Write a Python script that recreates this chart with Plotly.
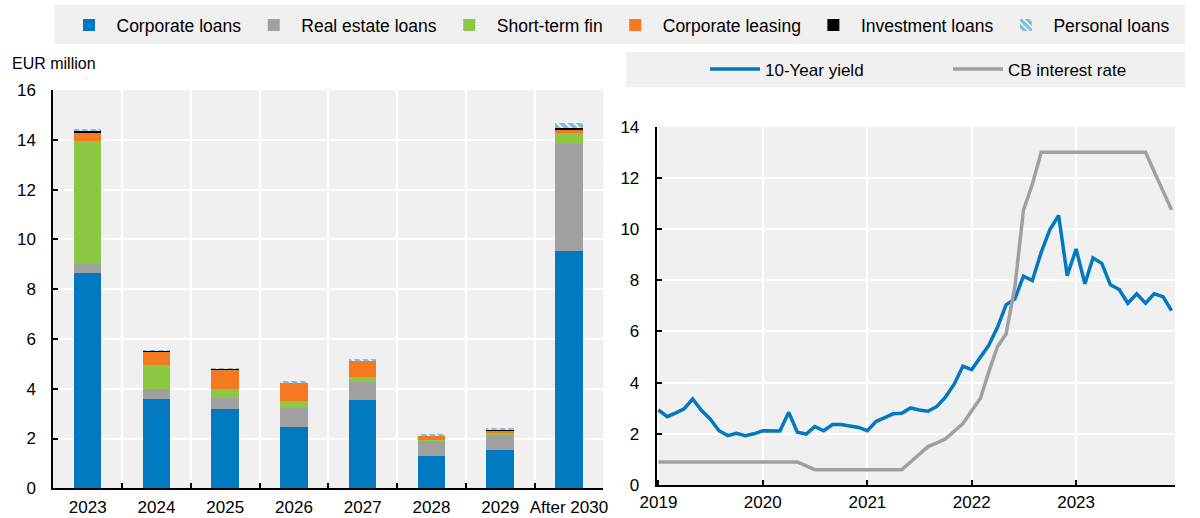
import plotly.graph_objects as go
import pandas as pd

# ---------------- data ----------------
categories = ["2023", "2024", "2025", "2026", "2027", "2028", "2029", "After 2030"]
corporate_loans = [8.64, 3.59, 3.19, 2.46, 3.55, 1.31, 1.55, 9.55]
real_estate_loans = [0.39, 0.40, 0.43, 0.75, 0.71, 0.62, 0.58, 4.30]
short_term_fin = [4.93, 0.95, 0.37, 0.28, 0.21, 0.03, 0.09, 0.41]
corporate_leasing = [0.33, 0.56, 0.80, 0.75, 0.67, 0.15, 0.11, 0.16]
investment_loans = [0.07, 0.02, 0.01, 0.02, 0.01, 0.01, 0.04, 0.06]
personal_loans = [0.04, 0.03, 0.03, 0.03, 0.03, 0.03, 0.03, 0.21]

months = pd.date_range("2019-01-01", "2023-12-01", freq="MS")
yield_10y = [
    2.93, 2.67, 2.81, 2.98, 3.36, 2.91, 2.58, 2.12, 1.93, 2.02, 1.93, 2.00,
    2.12, 2.11, 2.11, 2.84, 2.06, 1.99, 2.28, 2.12, 2.36, 2.36, 2.32, 2.25,
    2.12, 2.49, 2.62, 2.78, 2.80, 3.01, 2.93, 2.88, 3.07, 3.43, 3.95, 4.64,
    4.51, 4.99, 5.45, 6.16, 7.04, 7.27, 8.16, 7.99, 9.09, 9.97, 10.53, 8.18,
    9.22, 7.86, 8.87, 8.66, 7.82, 7.64, 7.10, 7.47, 7.10, 7.47, 7.36, 6.81,
]
cb_rate = [
    0.90, 0.90, 0.90, 0.90, 0.90, 0.90, 0.90, 0.90, 0.90, 0.90, 0.90, 0.90,
    0.90, 0.90, 0.90, 0.90, 0.90, 0.75, 0.60, 0.60, 0.60, 0.60, 0.60, 0.60,
    0.60, 0.60, 0.60, 0.60, 0.60, 0.90, 1.20, 1.50, 1.65, 1.80, 2.10, 2.40,
    2.90, 3.40, 4.40, 5.40, 5.90, 7.75, 10.75, 11.75, 13.00, 13.00, 13.00, 13.00,
    13.00, 13.00, 13.00, 13.00, 13.00, 13.00, 13.00, 13.00, 13.00, 12.25, 11.50, 10.75,
]
year_ticks = ["2019", "2020", "2021", "2022", "2023"]

# ---------------- styles ----------------
BLUE = "#0079C0"
GREY = "#A0A0A0"
GREEN = "#8CC841"
ORANGE = "#F47920"
BLACK = "#000000"
BG = "#F0F0F0"
FONT = "Liberation Sans, Arial, sans-serif"
W, H = 1200, 518

fig = go.Figure()

bar_series = [
    ("Corporate loans", corporate_loans, dict(color=BLUE)),
    ("Real estate loans", real_estate_loans, dict(color=GREY)),
    ("Short-term fin", short_term_fin, dict(color=GREEN)),
    ("Corporate leasing", corporate_leasing, dict(color=ORANGE)),
    ("Investment loans", investment_loans, dict(color=BLACK)),
    ("Personal loans", personal_loans,
     dict(color="white", pattern=dict(shape="\\", fgcolor=BLUE, bgcolor="white",
                                      size=6, solidity=0.7, fillmode="overlay"))),
]
for name, vals, marker in bar_series:
    fig.add_trace(go.Bar(
        x=categories, y=vals, name=name, marker=dict(line=dict(width=0), **marker),
        xaxis="x", yaxis="y", legend="legend",
    ))

fig.add_trace(go.Scatter(
    x=months, y=yield_10y, name="10-Year yield", mode="lines",
    line=dict(color=BLUE, width=3.5), xaxis="x2", yaxis="y2", legend="legend2",
))
fig.add_trace(go.Scatter(
    x=months, y=cb_rate, name="CB interest rate", mode="lines",
    line=dict(color=GREY, width=3.5), xaxis="x2", yaxis="y2", legend="legend2",
))

def px_x(p):
    return p / W

def px_y(p):
    return 1 - p / H

axis_common = dict(
    showline=True, linecolor=BLACK, linewidth=2,
    ticks="inside", ticklen=5, tickwidth=2, tickcolor=BLACK,
    showgrid=True, gridcolor="white", gridwidth=2, zeroline=False,
    tickfont=dict(size=17, color=BLACK, family=FONT),
)

fig.update_layout(
    width=W, height=H,
    margin=dict(l=0, r=0, t=0, b=0, autoexpand=False),
    paper_bgcolor="white",
    plot_bgcolor=BG,
    font=dict(family=FONT, size=17, color=BLACK),
    barmode="stack",
    bargap=0.6,
    xaxis=dict(domain=[px_x(53.3), px_x(603.3)], type="category",
               tickson="boundaries", anchor="y", tickangle=0,
               ticklabelstandoff=2, automargin=False, **axis_common),
    yaxis=dict(domain=[px_y(488.3), px_y(90)], range=[0, 16], dtick=2,
               anchor="x", ticklabelstandoff=12, automargin=False, **axis_common),
    xaxis2=dict(domain=[px_x(656.7), px_x(1175)], type="date",
                range=["2018-12-26", "2023-12-13"],
                tickvals=[f"{y}-01-01" for y in year_ticks], ticktext=year_ticks,
                anchor="y2", tickangle=0, ticklabelstandoff=1, automargin=False,
                **axis_common),
    yaxis2=dict(domain=[px_y(485), px_y(126.7)], range=[0, 14], dtick=2,
                anchor="x2", ticklabelstandoff=12, automargin=False, **axis_common),
    legend=dict(orientation="h", x=px_x(61.5), y=px_y(25), xanchor="left", yanchor="middle",
                bgcolor="rgba(0,0,0,0)", font=dict(size=17.5, family=FONT, color=BLACK),
                itemwidth=45, traceorder="normal"),
    legend2=dict(orientation="h", x=px_x(705), y=px_y(69.5), xanchor="left", yanchor="middle",
                 bgcolor="rgba(0,0,0,0)", font=dict(size=17, family=FONT, color=BLACK),
                 itemwidth=50, entrywidth=178, traceorder="normal"),
    shapes=[
        dict(type="rect", xref="paper", yref="paper", layer="below",
             x0=px_x(54.5), x1=px_x(1185), y0=px_y(44.3), y1=px_y(5),
             fillcolor=BG, line=dict(width=0)),
        dict(type="rect", xref="paper", yref="paper", layer="below",
             x0=px_x(626), x1=px_x(1185), y0=px_y(87.3), y1=px_y(51.7),
             fillcolor=BG, line=dict(width=0)),
    ],
    annotations=[
        dict(text="EUR million", xref="paper", yref="paper", x=px_x(10), y=px_y(64),
             xanchor="left", yanchor="middle", showarrow=False,
             font=dict(size=16, family=FONT, color=BLACK)),
    ],
)

fig.write_html("out.html", config={"displayModeBar": False},
               post_script="document.body.style.margin='0';")
